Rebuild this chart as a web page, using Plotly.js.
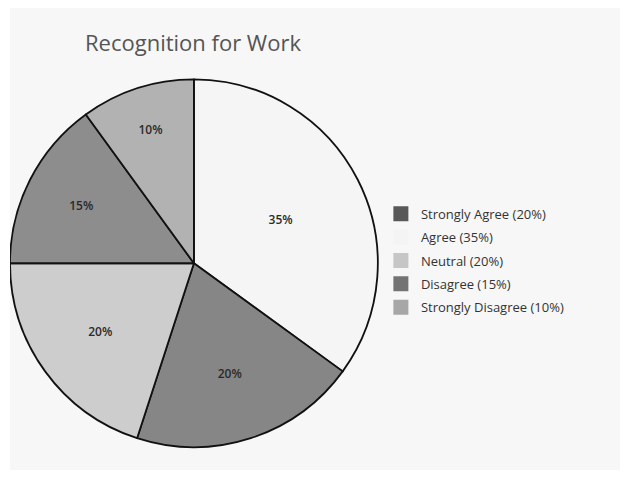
<!DOCTYPE html>
<html>
<head>
<meta charset="utf-8">
<script src="https://cdn.plot.ly/plotly-3.0.1.min.js"></script>
<style>
  html, body { margin: 0; padding: 0; background: #ffffff; }
  #wrap { position: absolute; left: 10px; top: 8px; width: 610px; height: 462px; }
  #chart { width: 610px; height: 462px; }
</style>
</head>
<body>
<div id="wrap"><div id="chart"></div></div>
<script>
// Slices in drawing order (clockwise from 12 o'clock)
const sliceLabels = ["Agree", "Strongly Agree", "Neutral", "Disagree", "Strongly Disagree"];
const sliceValues = [35, 20, 20, 15, 10];
const sliceColors = ["#f5f5f5", "#868686", "#cdcdcd", "#8d8d8d", "#b2b2b2"];

// Legend entries in legend order
const legendLabels = ["Strongly Agree (20%)", "Agree (35%)", "Neutral (20%)", "Disagree (15%)", "Strongly Disagree (10%)"];
const legendColors = ["#585858", "#f4f4f4", "#c6c6c6", "#737373", "#a7a7a7"];

const chartTitle = "Recognition for Work";

const traces = [{
  type: "pie",
  labels: sliceLabels,
  values: sliceValues,
  sort: false,
  direction: "clockwise",
  rotation: 0,
  showlegend: false,
  textinfo: "percent",
  texttemplate: "%{percent:.0%}",
  textposition: "inside",
  insidetextorientation: "horizontal",
  textfont: { family: "Open Sans", size: 12, color: "#2a2a2a", weight: 600 },
  marker: { colors: sliceColors, line: { color: "#111111", width: 1.8 } },
  domain: { x: [0, 0.603], y: [0.045, 0.850] },
  hoverinfo: "label+percent"
}];

legendLabels.forEach((name, i) => {
  traces.push({
    type: "scatter",
    mode: "markers",
    x: [null], y: [null],
    name: name,
    legendgroup: "g" + i,
    marker: { symbol: "square", size: 15, color: legendColors[i], line: { width: 0 } },
    hoverinfo: "skip"
  });
});

const layout = {
  width: 610, height: 462,
  margin: { l: 0, r: 0, t: 0, b: 0 },
  paper_bgcolor: "#f7f7f7",
  plot_bgcolor: "rgba(0,0,0,0)",
  font: { family: "Open Sans", color: "#333333" },
  title: {
    text: chartTitle,
    font: { family: "Open Sans", size: 22, color: "#555555" },
    x: 0.3, xanchor: "center", xref: "paper",
    y: 0.924, yanchor: "middle", yref: "container"
  },
  xaxis: { visible: false },
  yaxis: { visible: false },
  showlegend: true,
  legend: {
    x: 0.608, xanchor: "left",
    y: 0.453, yanchor: "middle",
    bgcolor: "rgba(0,0,0,0)",
    font: { family: "Open Sans", size: 13, color: "#333333" },
    tracegroupgap: 3.5,
    itemclick: false, itemdoubleclick: false
  }
};

Plotly.newPlot("chart", traces, layout, { displayModeBar: false });
</script>
</body>
</html>
